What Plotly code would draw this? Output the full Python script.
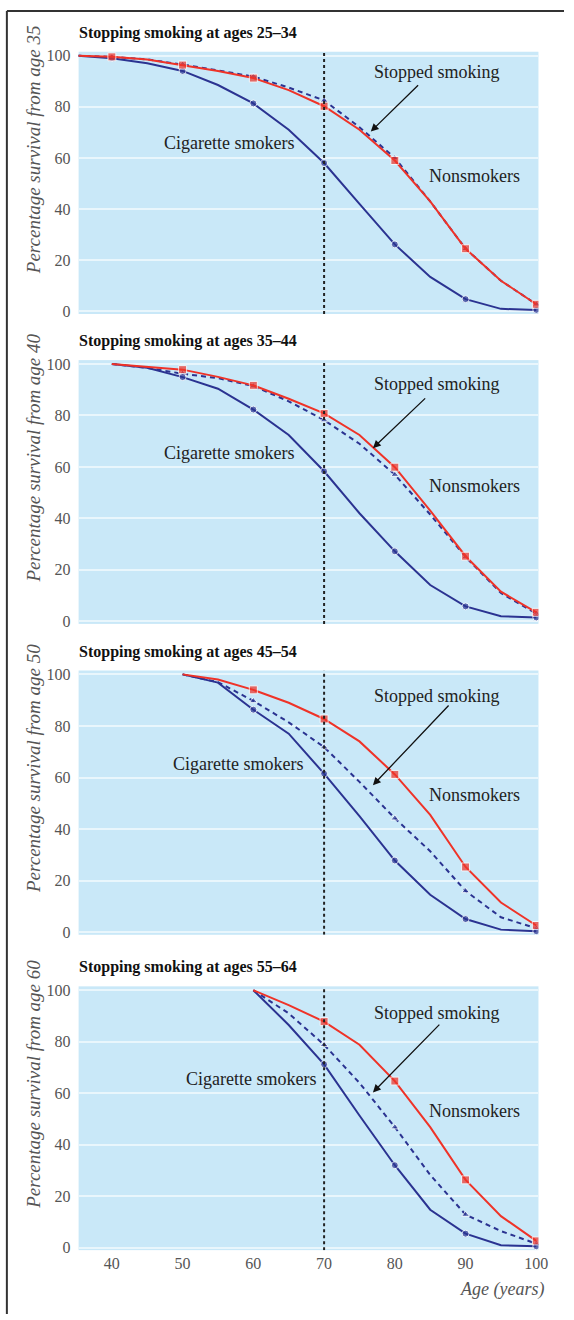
import plotly.graph_objects as go

W, H = 574, 1320

ages = [35, 40, 45, 50, 55, 60, 65, 70, 75, 80, 85, 90, 95, 100]
start_ages = [35, 40, 50, 60]
panel_titles = ["Stopping smoking at ages 25–34", "Stopping smoking at ages 35–44",
                "Stopping smoking at ages 45–54", "Stopping smoking at ages 55–64"]

# survival (%) at each age from start age onwards
nonsmokers = [
    [100, 99.5, 98.5, 96.3, 94, 91.2, 86.5, 80.2, 71, 59, 43, 24.5, 12, 2.8],
    [100, 99, 97.8, 95, 91.7, 86.5, 80.8, 72.4, 59.9, 43, 25.3, 11.5, 3.5],
    [100, 98, 94, 89, 82.7, 74, 61.2, 45.5, 25.3, 11.5, 2.6],
    [100, 94.2, 87.8, 78.8, 64.7, 46.8, 26.3, 12.2, 2.6],
]
smokers = [
    [100, 99, 97, 94, 88.5, 81.3, 71, 58, 42, 26.2, 13.5, 4.8, 1, 0.6],
    [100, 98.5, 94.9, 90.4, 82.3, 72.4, 58.3, 42, 27.2, 14.1, 5.8, 2, 1.5],
    [100, 96.8, 86.3, 77, 61.5, 45, 27.8, 14.5, 5.1, 1, 0.4],
    [100, 86.5, 71.2, 51.3, 32, 14.7, 5.4, 0.9, 0.5],
]
stopped = [
    [100, 99.5, 98.5, 96.5, 94.2, 91.8, 87.5, 82.5, 72, 60, 43, 24.5, 12, 2.8],
    [100, 98.5, 96.2, 94.5, 91.4, 85.5, 78.2, 69, 57, 41.5, 25, 11, 3],
    [100, 97, 89.7, 81.4, 71.8, 58.3, 44.2, 31.4, 16, 5.8, 1.5],
    [100, 91, 78.8, 64, 46.8, 28.2, 12.8, 6.4, 1.5],
]
# label positions (age, %) per panel
cig_label = [(56.5, 65.8), (56.5, 65.4), (57.8, 65.4), (59.6, 65.4)]
non_label = [(91.3, 52.9), (91.3, 52.6), (91.3, 53.2), (91.3, 53.2)]
stop_label = [(86, 93.5), (86, 92.3), (86, 91.7), (86, 91)]
arrow_tail = [(83.5, 89), (84.5, 87.2), (87.8, 88.5), (86.5, 87.2)]
arrow_head = [(76.6, 70.3), (76.9, 67.3), (76.9, 57), (76.9, 60.3)]
x_ticks = [40, 50, 60, 70, 80, 90, 100]
y_ticks = [0, 20, 40, 60, 80, 100]

# pixel rows of the 100 and 0 levels in each panel
top100 = [51, 362, 675, 993.5]
zero = [309, 621.5, 935, 1253]

RED = "#ef3328"
BLUE = "#2b3391"
BG = "#c9e8f8"
SERIF = "Liberation Serif, DejaVu Serif, serif"
YMIN, YMAX = -1, 101.5

def px(x):
    return x / W

def py(y):
    return 1 - y / H

fig = go.Figure()

for i in range(4):
    n = i + 1
    xa = "x" if n == 1 else f"x{n}"
    ya = "y" if n == 1 else f"y{n}"
    xs = [a for a in ages if a >= start_ages[i]]
    msize = [0 if (a == start_ages[i] or a % 10) else 1 for a in xs]

    fig.add_trace(go.Scatter(
        x=xs, y=stopped[i], mode="lines+markers", xaxis=xa, yaxis=ya,
        line=dict(color=BLUE, width=2, dash="5px,4px"),
        marker=dict(symbol="triangle-up", size=[m * 7 for m in msize], color=BLUE),
        showlegend=False))
    fig.add_trace(go.Scatter(
        x=xs, y=smokers[i], mode="lines+markers", xaxis=xa, yaxis=ya,
        line=dict(color=BLUE, width=2),
        marker=dict(symbol="circle", size=[m * 7 for m in msize], color=BLUE),
        showlegend=False))
    fig.add_trace(go.Scatter(
        x=xs, y=nonsmokers[i], mode="lines+markers", xaxis=xa, yaxis=ya,
        line=dict(color=RED, width=2),
        marker=dict(symbol="square", size=[m * 8 for m in msize], color=RED),
        showlegend=False))

    pu = (zero[i] - top100[i]) / 100
    d_top = top100[i] - (YMAX - 100) * pu
    d_bot = zero[i] - YMIN * pu
    fig.update_layout(**{
        ("xaxis" if n == 1 else f"xaxis{n}"): dict(
            domain=[px(80), px(548)], range=[35.3, 100.3], anchor=ya,
            tickvals=x_ticks, showticklabels=(n == 4), showgrid=False,
            zeroline=False, ticks="", tickfont=dict(family=SERIF, size=16, color="#555"),
            ticklabelstandoff=2),
        ("yaxis" if n == 1 else f"yaxis{n}"): dict(
            domain=[py(d_bot), py(d_top)], range=[YMIN, YMAX], anchor=xa,
            tickvals=y_ticks, showgrid=True, gridcolor="rgba(255,255,255,0.6)",
            gridwidth=1.5, zeroline=False, ticks="",
            tickfont=dict(family=SERIF, size=16, color="#555"), ticklabelstandoff=7),
    })

    # dotted line at age 70
    fig.add_shape(type="line", xref=xa, yref=ya, x0=70, x1=70, y0=YMIN, y1=YMAX,
                  line=dict(color="#222", width=2, dash="dot"))

    # panel title
    fig.add_annotation(text=f"<b>{panel_titles[i]}</b>", xref="paper", yref="paper",
                       x=px(78), y=py(top100[i] - 23), xanchor="left", yanchor="middle",
                       showarrow=False, font=dict(family=SERIF, size=16, color="#111"))
    # y axis title
    fig.add_annotation(text=f"<i>Percentage survival from age {start_ages[i]}</i>",
                       xref="paper", yref="paper", x=px(34), y=py(top100[i] + 95),
                       xanchor="center", yanchor="middle", textangle=-90, showarrow=False,
                       font=dict(family=SERIF, size=19, color="#555"))
    # series labels
    for txt, (lx, ly) in [("Cigarette smokers", cig_label[i]), ("Nonsmokers", non_label[i]),
                          ("Stopped smoking", stop_label[i])]:
        fig.add_annotation(text=txt, x=lx, y=ly, xref=xa, yref=ya, showarrow=False,
                           font=dict(family=SERIF, size=18, color="#222"))
    fig.add_annotation(text="", x=arrow_head[i][0], y=arrow_head[i][1],
                       ax=arrow_tail[i][0], ay=arrow_tail[i][1], xref=xa, yref=ya,
                       axref=xa, ayref=ya, showarrow=True, arrowhead=2, arrowsize=1.2,
                       arrowwidth=1.3, arrowcolor="#111")

fig.add_annotation(text="<i>Age (years)</i>", xref="paper", yref="paper", x=px(556),
                   y=py(1295), xanchor="right", yanchor="middle", showarrow=False,
                   font=dict(family=SERIF, size=18, color="#555"))

# page frame on the left and top
fig.add_shape(type="line", xref="paper", yref="paper", x0=px(7), x1=px(7), y0=0, y1=py(6),
              line=dict(color="#333", width=2))
fig.add_shape(type="line", xref="paper", yref="paper", x0=px(7), x1=1, y0=py(6), y1=py(6),
              line=dict(color="#333", width=2))

fig.update_layout(width=W, height=H, margin=dict(l=0, r=0, t=0, b=0),
                  paper_bgcolor="white", plot_bgcolor=BG)

# drop the browser's default body margin and scrollbars so the figure fills the window
page_js = ("document.body.style.margin='0';"
           "document.body.style.overflow='hidden';"
           "document.documentElement.style.overflow='hidden';")
fig.write_html("out.html", config={"displayModeBar": False}, post_script=page_js)
